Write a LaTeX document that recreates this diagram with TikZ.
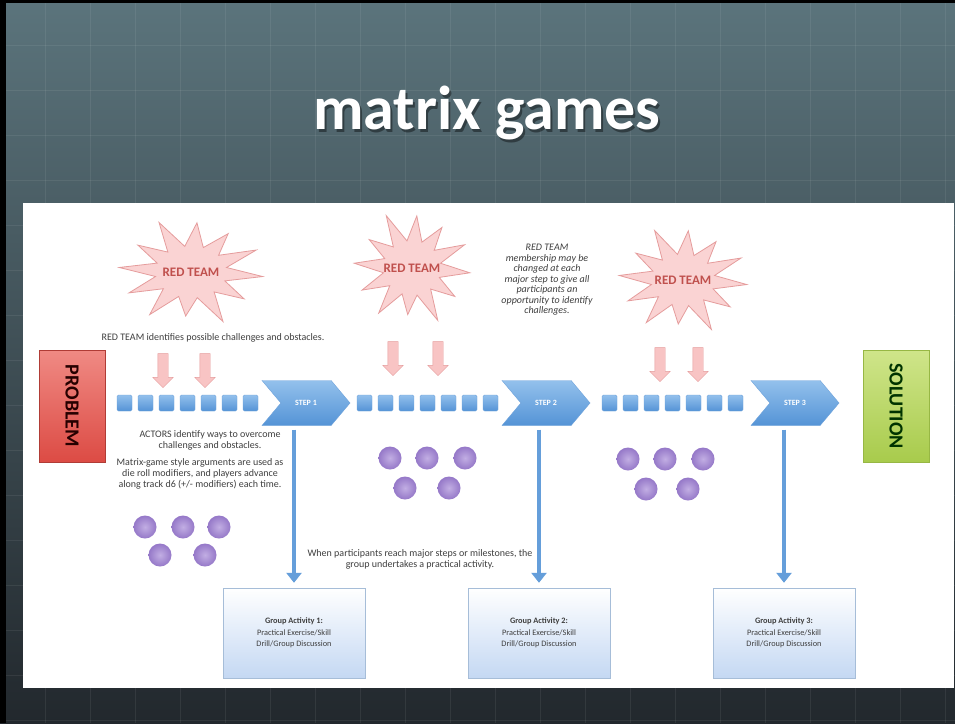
\documentclass[tikz,border=0pt]{standalone}
\usepackage{fontspec}
\setmainfont{Carlito}
\usepackage{xcolor}
\usetikzlibrary{shapes.geometric, shapes.arrows, shapes.symbols}
\usetikzlibrary{arrows.meta}
\usetikzlibrary{calc}
\definecolor{slatetop}{HTML}{5B747C}
\definecolor{slatebot}{HTML}{22282D}
\definecolor{starfill}{HTML}{FAD3D3}
\definecolor{starline}{HTML}{E59C9C}
\definecolor{arrowfill}{HTML}{F8C4C4}
\definecolor{redtext}{HTML}{C0504D}
\definecolor{trackhi}{HTML}{93C0EC}
\definecolor{tracklo}{HTML}{5493D6}
\definecolor{trackline}{HTML}{6FA3DB}
\definecolor{purplehi}{HTML}{C2AEE3}
\definecolor{purplelo}{HTML}{9578C8}
\definecolor{groupfill}{HTML}{C4D8F3}
\definecolor{groupline}{HTML}{A6BDD8}
\definecolor{textgray}{HTML}{3F3F3F}
\definecolor{probhi}{HTML}{F08A84}
\definecolor{problo}{HTML}{DC4B44}
\definecolor{solhi}{HTML}{CFE58A}
\definecolor{sollo}{HTML}{A8CB4C}
\tikzstyle{gridline} = [white, opacity=0.07, line width=0.8pt]
\tikzstyle{titletext} = [text=white, font=\fontsize{62}{62}\selectfont\bfseries]
\tikzstyle{starshape} = [draw=starline, fill=starfill, line width=0.8pt, line join=miter]
\tikzstyle{startext} = [text=redtext, font=\fontsize{13}{14}\selectfont\bfseries]
\tikzstyle{pinkarrow} = [single arrow, draw=starline, fill=arrowfill,
	rotate=-90, minimum height=34pt, inner sep=5pt,
	single arrow head extend=5pt]
\tikzstyle{trackbox} = [draw=trackline, rounded corners=1.5pt,
	top color=trackhi, bottom color=tracklo,
	minimum width=15pt, minimum height=16pt, inner sep=0pt]
\tikzstyle{stepsig} = [signal, signal from=west, signal to=east,
	signal pointer angle=100, draw=trackline,
	top color=trackhi, bottom color=tracklo,
	minimum width=88pt, minimum height=45pt, inner sep=0pt,
	text=white, font=\fontsize{8}{9}\selectfont\bfseries]
\tikzstyle{endbox} = [minimum width=112pt, minimum height=66pt, rotate=-90,
	font=\fontsize{20}{21}\selectfont\bfseries]
\tikzstyle{player} = [circle, minimum size=23pt, inner sep=0pt,
	shading=radial, inner color=purplehi, outer color=purplelo]
\tikzstyle{note} = [text=textgray, align=center, font=\fontsize{10}{11}\selectfont]
\tikzstyle{groupbox} = [draw=groupline, top color=white, bottom color=groupfill,
	minimum width=142pt, minimum height=90pt, align=center,
	text=textgray, font=\fontsize{8.3}{11.5}\selectfont]
\tikzstyle{downarrow} = [-{Triangle[width=15pt,length=10pt]}, line width=4.5pt,
	color=tracklo!90, shorten <=4pt, shorten >=5pt]
\newcommand{\redstar}[4]{\draw[starshape, shift={#2}, x=#3pt, y=-#4pt] (5:1)
	\foreach \a/\r in {35/.9,65/1.05,95/.85,125/1,155/.95,185/1,215/.9,245/1.05,275/.95,305/.9,335/1}
	{ -- ({\a-15}:.5) -- (\a:\r)} -- (350:.5) -- cycle;
	\node[startext] (#1) at #2 {RED TEAM}}

\begin{document}
\begin{tikzpicture}[x=1pt, y=-1pt]
			\useasboundingbox (0,0) rectangle (955,723);
			% slide background
			\shade[top color=slatetop, bottom color=slatebot] (0,0) rectangle (955,723);
			\foreach \g in {0,45,...,945} \draw[gridline] (\g,0) -- (\g,723);
			\foreach \g in {0,45,...,720} \draw[gridline] (0,\g) -- (955,\g);
			\fill[black] (0,0) rectangle (6,723);
			\fill[black] (0,0) rectangle (955,3);
			\node[titletext, text=black, opacity=0.4] (titleshadow) at (489,116) {matrix games};
			\node[titletext] (title) at (487,113) {matrix games};
			\fill[white] (23,203) rectangle (954,688);
			
			% red team stars
			\redstar{rt1}{(191,272)}{72}{52};
			\redstar{rt2}{(412,268)}{58}{55};
			\redstar{rt3}{(683,280)}{64}{52};
			\node[pinkarrow] (ra1) at (163,368) {};
			\node[pinkarrow] (ra2) at (205,368) {};
			\node[pinkarrow] (ra3) at (393,356) {};
			\node[pinkarrow] (ra4) at (438,356) {};
			\node[pinkarrow] (ra5) at (660,362) {};
			\node[pinkarrow] (ra6) at (698,362) {};
			
			% track
			\node[endbox, draw=problo!80!black, top color=probhi, bottom color=problo, text=black!85!red] (problem) at (72,406) {PROBLEM};
			\node[endbox, draw=sollo!90!black, top color=solhi, bottom color=sollo, text=green!20!black] (solution) at (896,406) {SOLUTION};
			\foreach \i in {0,...,6} {
				\node[trackbox] (ta\i) at ({124.5+21*\i},403) {};
				\node[trackbox] (tb\i) at ({364.5+21*\i},403) {};
				\node[trackbox] (tc\i) at ({609.5+21*\i},403) {};
			}
			\node[stepsig] (step1) at (306,403) {STEP 1};
			\node[stepsig] (step2) at (546,403) {STEP 2};
			\node[stepsig] (step3) at (795,403) {STEP 3};
			
			% players
			\foreach \x/\y [count=\n] in {145/527,183/527,219/527,160/555,205/555} \node[player] (pa\n) at (\x,\y) {};
			\foreach \x/\y [count=\n] in {390/458,427/458,465/458,405/488,449/488} \node[player] (pb\n) at (\x,\y) {};
			\foreach \x/\y [count=\n] in {628/459,665/459,703/459,646/489,688/489} \node[player] (pc\n) at (\x,\y) {};
			
			% group activities
			\node[groupbox] (ga1) at (294,633) {\textbf{Group Activity 1:}\\Practical Exercise/Skill\\Drill/Group Discussion};
			\node[groupbox] (ga2) at (539,633) {\textbf{Group Activity 2:}\\Practical Exercise/Skill\\Drill/Group Discussion};
			\node[groupbox] (ga3) at (784,633) {\textbf{Group Activity 3:}\\Practical Exercise/Skill\\Drill/Group Discussion};
			\draw[downarrow] (ga1.north |- step1.south) -- (ga1.north);
			\draw[downarrow] (ga2.north |- step2.south) -- (ga2.north);
			\draw[downarrow] (ga3.north |- step3.south) -- (ga3.north);
			
			% notes
			\node[note] (rtnote) at (213,338) {RED TEAM identifies possible challenges and obstacles.};
			\node[note] (actnote) at (210,440) {ACTORS identify ways to overcome\\challenges and obstacles.};
			\node[note] (matnote) at (200,474) {Matrix-game style arguments are used as\\die roll modifiers, and players advance\\along track d6 (+/- modifiers) each time.};
			\node[note, font=\fontsize{10}{10.5}\selectfont\itshape] (memnote) at (547,280) {RED TEAM\\membership may be\\changed at each\\major step to give all\\participants an\\opportunity to identify\\challenges.};
			\node[note] (whennote) at (420,559) {When participants reach major steps or milestones, the\\group undertakes a practical activity.};
		\end{tikzpicture}
\end{document}
